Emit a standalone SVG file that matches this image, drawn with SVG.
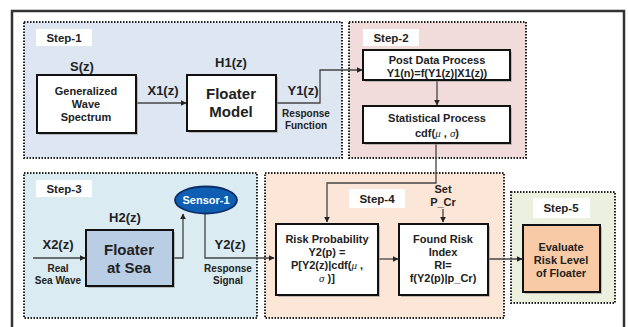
<svg xmlns="http://www.w3.org/2000/svg" width="628" height="327" viewBox="0 0 628 327">
<defs>
<marker id="ah" viewBox="0 0 10 10" refX="9" refY="5" markerWidth="6" markerHeight="6" orient="auto" markerUnits="userSpaceOnUse">
<path d="M0,0 L10,5 L0,10 z" fill="#222"/>
</marker>
</defs>
<style>
text{font-family:"Liberation Sans",Arial,sans-serif;font-weight:bold;fill:#222;text-anchor:middle}
.step{fill:none;stroke:#222;stroke-width:2;stroke-dasharray:1.5 1.5}
.lbl{fill:#fff}
.box{stroke:#111;stroke-width:2}
.sh{fill:#999;opacity:0.6}
.c{fill:none;stroke:#444;stroke-width:1.3}
.s{font-size:11px}
.m{font-size:13px}
.b{font-size:15px}
.t{font-size:10px}
.st{font-size:11.5px}
.g{font-style:italic;font-weight:normal;font-family:"Liberation Serif",serif}
</style>
<rect x="0" y="0" width="628" height="327" fill="#fff"/>
<rect x="12" y="11" width="612" height="330" fill="none" stroke="#333" stroke-width="2.5"/>

<g id="step1">
<rect x="24" y="22" width="318" height="136" fill="#dde6f1"/>
<rect x="24" y="22" width="318" height="136" class="step"/>
<rect x="36" y="29" width="56" height="17" class="lbl"/>
<text x="64" y="42" class="st">Step-1</text>
</g>
<g id="step2">
<rect x="349" y="22" width="177" height="136" fill="#f2dcdb"/>
<rect x="349" y="22" width="177" height="136" class="step"/>
<rect x="363" y="29" width="56" height="17" class="lbl"/>
<text x="391" y="42" class="st">Step-2</text>
</g>
<g id="step3">
<rect x="24" y="173" width="233" height="145" fill="#daebf2"/>
<rect x="24" y="173" width="233" height="145" class="step"/>
<rect x="36" y="180" width="56" height="17" class="lbl"/>
<text x="64" y="193" class="st">Step-3</text>
</g>
<g id="step4">
<rect x="265" y="173" width="239" height="145" fill="#fce6d8"/>
<rect x="265" y="173" width="239" height="145" class="step"/>
<rect x="349" y="189" width="56" height="19" class="lbl"/>
<text x="377" y="203" class="st">Step-4</text>
</g>
<g id="step5">
<rect x="511" y="192" width="104" height="111" fill="#ebf0df"/>
<rect x="511" y="192" width="104" height="111" class="step"/>
<rect x="533" y="198" width="57" height="20" class="lbl"/>
<text x="561" y="212" class="st">Step-5</text>
</g>

<g id="connectors">
<line x1="137" y1="103" x2="186" y2="103" class="c" marker-end="url(#ah)"/>
<polyline points="276,103 320,103 320,70 362,70" class="c" marker-end="url(#ah)"/>
<line x1="437" y1="81" x2="437" y2="105" class="c" marker-end="url(#ah)"/>
<polyline points="436,144 436,183 327,183 327,222" class="c" marker-end="url(#ah)"/>
<line x1="443" y1="209" x2="443" y2="222" class="c" marker-end="url(#ah)"/>
<line x1="33" y1="258" x2="85" y2="258" class="c" marker-end="url(#ah)"/>
<polyline points="174,258 183,258 183,214" class="c" marker-end="url(#ah)"/>
<polyline points="205,213 205,258 274,258" class="c" marker-end="url(#ah)"/>
<line x1="379" y1="259" x2="398" y2="259" class="c" marker-end="url(#ah)"/>
<line x1="489" y1="259" x2="522" y2="259" class="c" marker-end="url(#ah)"/>
</g>

<g id="labels">
<text x="82" y="71" class="m">S(z)</text>
<text x="163" y="95" class="m">X1(z)</text>
<text x="231" y="67" class="m">H1(z)</text>
<text x="303" y="95" class="m">Y1(z)</text>
<text x="306" y="117" class="t">Response</text>
<text x="306" y="129" class="t">Function</text>
<text x="125" y="222" class="m">H2(z)</text>
<text x="58" y="249" class="m">X2(z)</text>
<text x="58" y="272" class="t">Real</text>
<text x="58" y="284" class="t">Sea Wave</text>
<text x="230" y="249" class="m">Y2(z)</text>
<text x="228" y="272" class="t">Response</text>
<text x="228" y="284" class="t">Signal</text>
<text x="443" y="193" class="s">Set</text>
<text x="443" y="206" class="s">P_Cr</text>
</g>

<g id="gws">
<rect x="39" y="77" width="99" height="58" class="sh"/>
<rect x="37" y="75" width="99" height="58" fill="#fff" class="box"/>
<text x="86" y="95" class="s">Generalized</text>
<text x="86" y="108" class="s">Wave</text>
<text x="86" y="121" class="s">Spectrum</text>
</g>
<g id="floater-model">
<rect x="189" y="77" width="89" height="56" class="sh"/>
<rect x="187" y="75" width="89" height="56" fill="#fff" class="box"/>
<text x="231" y="99" class="b">Floater</text>
<text x="231" y="117" class="b">Model</text>
</g>
<g id="post-data">
<rect x="365" y="52" width="147" height="30" class="sh"/>
<rect x="363" y="50" width="147" height="30" fill="#fff" class="box"/>
<text x="437" y="64" class="s">Post Data Process</text>
<text x="437" y="77" class="s">Y1(n)=f(Y1(z)|X1(z))</text>
</g>
<g id="statistical">
<rect x="365" y="108" width="147" height="37" class="sh"/>
<rect x="363" y="106" width="147" height="37" fill="#fff" class="box"/>
<text x="437" y="122" class="s">Statistical Process</text>
<text x="437" y="137" class="s">cdf(<tspan class="g">μ</tspan> , <tspan class="g">σ</tspan>)</text>
</g>
<g id="floater-sea">
<rect x="88" y="232" width="87" height="56" class="sh"/>
<rect x="86" y="230" width="87" height="56" fill="#b9cde5" class="box"/>
<text x="129" y="255" class="b">Floater</text>
<text x="129" y="273" class="b">at Sea</text>
</g>
<g id="sensor">
<ellipse cx="206" cy="200" rx="31" ry="13.5" fill="#0e5fb4" stroke="#0a2f66" stroke-width="1.8"/>
<text x="206" y="204" class="s" style="fill:#fff">Sensor-1</text>
</g>
<g id="risk-prob">
<rect x="278" y="226" width="102" height="71" class="sh"/>
<rect x="276" y="224" width="102" height="71" fill="#fff" class="box"/>
<text x="327" y="243" class="s">Risk Probability</text>
<text x="327" y="256" class="s">Y2(p) =</text>
<text x="327" y="269" class="s">P[Y2(z)|cdf(<tspan class="g">μ</tspan> ,</text>
<text x="327" y="282" class="s"><tspan class="g">σ</tspan> )]</text>
</g>
<g id="found-risk">
<rect x="401" y="226" width="89" height="71" class="sh"/>
<rect x="399" y="224" width="89" height="71" fill="#fff" class="box"/>
<text x="443" y="243" class="s">Found Risk</text>
<text x="443" y="256" class="s">Index</text>
<text x="443" y="269" class="s">RI=</text>
<text x="443" y="282" class="s">f(Y2(p)|p_Cr)</text>
</g>
<g id="evaluate">
<rect x="525" y="227" width="77" height="67" class="sh"/>
<rect x="523" y="225" width="77" height="67" fill="#f9caa6" class="box"/>
<text x="561" y="251" class="s">Evaluate</text>
<text x="561" y="264" class="s">Risk Level</text>
<text x="561" y="277" class="s">of Floater</text>
</g>
</svg>
